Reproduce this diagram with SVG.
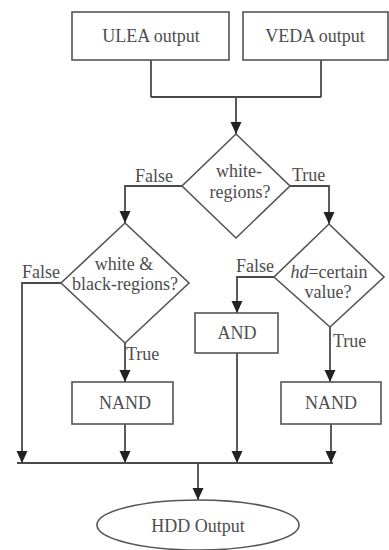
<svg xmlns="http://www.w3.org/2000/svg" width="389" height="550" viewBox="0 0 389 550">
<style>
.box{fill:#fff;stroke:#555;stroke-width:1.6}
.ln{fill:none;stroke:#4a4a4a;stroke-width:1.8}
.t{font-family:"Liberation Serif","Times New Roman",serif;font-size:18px;fill:#4d4d4d;text-anchor:middle}
.lb{font-family:"Liberation Serif","Times New Roman",serif;font-size:18px;fill:#4d4d4d}
</style>
<defs>
<marker id="ah" markerUnits="userSpaceOnUse" markerWidth="12" markerHeight="12" refX="12" refY="6" orient="auto">
<path d="M0,0.5 L12,6 L0,11.5 z" fill="#222"/>
</marker>
</defs>
<rect width="389" height="550" fill="#fff"/>
<g id="connectors">
<path class="ln" d="M151,60 V97 M321,60 V97 M151,97 H321"/>
<path class="ln" d="M236,97 V134" marker-end="url(#ah)"/>
<path class="ln" d="M182,186 H125 V223" marker-end="url(#ah)"/>
<path class="ln" d="M290,186 H329 V224" marker-end="url(#ah)"/>
<path class="ln" d="M61,283 H22 V463" marker-end="url(#ah)"/>
<path class="ln" d="M125,343 V382" marker-end="url(#ah)"/>
<path class="ln" d="M274,277 H237 V313" marker-end="url(#ah)"/>
<path class="ln" d="M330,327 V382" marker-end="url(#ah)"/>
<path class="ln" d="M125,424 V463" marker-end="url(#ah)"/>
<path class="ln" d="M237,353 V463" marker-end="url(#ah)"/>
<path class="ln" d="M331,424 V463" marker-end="url(#ah)"/>
<path class="ln" d="M17,463 H333"/>
<path class="ln" d="M198,463 V500" marker-end="url(#ah)"/>
<text class="lb" x="135" y="182">False</text>
<text class="lb" x="292" y="181">True</text>
<text class="lb" x="22" y="278">False</text>
<text class="lb" x="126" y="360">True</text>
<text class="lb" x="236" y="272">False</text>
<text class="lb" x="333" y="347">True</text>
</g>
<g id="ulea">
<rect class="box" x="72" y="12" width="157" height="48"/>
<text class="t" x="151" y="42">ULEA output</text>
</g>
<g id="veda">
<rect class="box" x="243" y="12" width="145" height="48"/>
<text class="t" x="315" y="42">VEDA output</text>
</g>
<g id="white-regions">
<path class="box" d="M236,134 L290,186 L236,238 L182,186 Z"/>
<text class="t" x="239" y="177">white-</text>
<text class="t" x="240" y="198">regions?</text>
</g>
<g id="white-black">
<path class="box" d="M125,223 L189,283 L125,343 L61,283 Z"/>
<text class="t" x="124" y="270">white &amp;</text>
<text class="t" x="125" y="290">black-regions?</text>
</g>
<g id="hd-value">
<path class="box" d="M329,224 L384,277 L330,327 L274,277 Z"/>
<text class="t" x="329" y="278"><tspan font-style="italic">hd</tspan>=certain</text>
<text class="t" x="328" y="298">value?</text>
</g>
<g id="and">
<rect class="box" x="195" y="313" width="83" height="40"/>
<text class="t" x="237" y="339">AND</text>
</g>
<g id="nand-left">
<rect class="box" x="72" y="382" width="101" height="42"/>
<text class="t" x="125" y="409">NAND</text>
</g>
<g id="nand-right">
<rect class="box" x="281" y="382" width="100" height="42"/>
<text class="t" x="331" y="409">NAND</text>
</g>
<g id="hdd">
<ellipse class="box" cx="198" cy="525" rx="101" ry="25"/>
<text class="t" x="198" y="532">HDD Output</text>
</g>
</svg>
